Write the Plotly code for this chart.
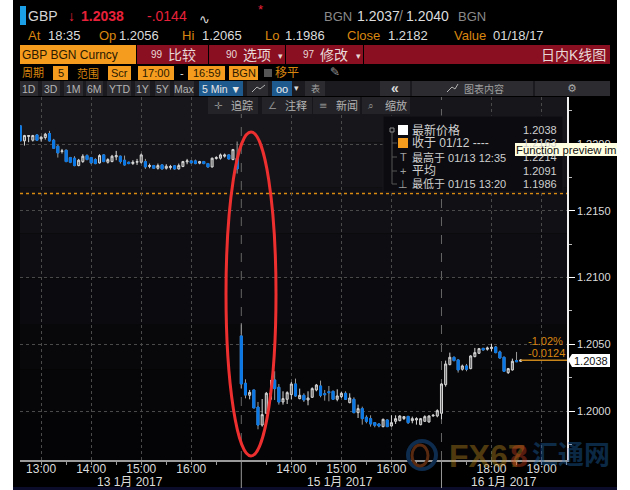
import plotly.graph_objects as go

W, H = 630, 490
PL, PR, PT, PB = 20, 567, 97, 460

# ---- data ----
opens = [1.22138,1.22025,1.22058,1.2203,1.2207,1.2204,1.2205,1.2208,1.2203,1.21985,1.21945,1.21955,1.219,1.21895,1.2184,1.2187,1.21915,1.219,1.21885,1.2186,
 1.2192,1.21865,1.2187,1.21905,1.2191,1.2188,1.21865,1.21855,1.21865,1.21865,1.2187,1.21833,1.2184,1.2182,1.21845,1.2182,1.21825,1.21838,1.21815,1.21833,
 1.21868,1.21875,1.21875,1.21858,1.2187,1.21855,1.2183,1.21893,1.21895,1.2191,1.2192,1.21885,1.21895,
 1.20563,1.20208,1.20118,1.20158,1.2003,1.19895,1.19983,1.20088,1.20233,1.20178,1.20068,1.20088,1.20123,1.20203,1.20093,1.20118,1.20083,1.20103,1.20158,1.20188,1.2013,1.20145,1.20148,1.20088,1.20108,1.20133,1.20063,1.20088,1.19988,1.20018,1.19953,1.19943,1.19913,1.19903,1.19883,1.19933,
 1.19888,1.19923,1.19928,1.19943,1.1996,1.19928,1.19933,1.19898,1.19923,1.19918,1.19963,1.19963,1.19983,1.20198,1.20348,1.20403,1.20383,1.20313,1.20338,1.20318,1.20408,1.20433,1.2047,1.20463,1.20468,1.2048,1.20443,1.20403,1.20288,1.20308,1.20378,1.20373]
highs = [1.22138,1.2207,1.22065,1.2207,1.22075,1.2206,1.22085,1.221,1.2204,1.21995,1.21965,1.2196,1.21905,1.2191,1.2189,1.21925,1.21925,1.21905,1.21895,1.21925,
 1.21925,1.21895,1.2192,1.2195,1.21915,1.21915,1.2187,1.2188,1.2189,1.2193,1.2189,1.21855,1.21845,1.21855,1.2185,1.2185,1.21845,1.21843,1.21855,1.21875,
 1.2189,1.2188,1.21885,1.21875,1.21875,1.2186,1.219,1.2191,1.2193,1.2193,1.21925,1.21965,1.2202,
 1.20658,1.20238,1.20158,1.20158,1.20068,1.2009,1.20143,1.20233,1.20298,1.20203,1.20148,1.20148,1.20218,1.20243,1.20168,1.20133,1.20148,1.20178,1.20203,1.20228,1.20158,1.20188,1.20153,1.20163,1.20143,1.20148,1.20133,1.20103,1.20048,1.20033,1.19968,1.19968,1.19918,1.19908,1.19943,1.19938,
 1.19968,1.19968,1.19968,1.19963,1.19963,1.19958,1.19953,1.19948,1.19968,1.19968,1.19978,1.20013,1.20208,1.20378,1.20438,1.20408,1.20388,1.20348,1.20353,1.20418,1.20473,1.20473,1.20473,1.20483,1.20503,1.20488,1.20453,1.20408,1.20323,1.20393,1.20443,1.20388]
lows = [1.22025,1.2199,1.22015,1.2202,1.22025,1.2202,1.22035,1.2202,1.21965,1.219,1.2193,1.21865,1.21858,1.21835,1.21835,1.2186,1.2188,1.2185,1.2185,1.21855,
 1.21865,1.21855,1.21865,1.2188,1.21855,1.2184,1.2185,1.21845,1.21845,1.21855,1.21815,1.2182,1.21815,1.2181,1.2181,1.2181,1.2181,1.2181,1.2181,1.21828,
 1.2185,1.21855,1.2185,1.2185,1.2185,1.21825,1.21825,1.21885,1.21885,1.219,1.21885,1.2188,1.2178,
 1.20168,1.20095,1.20088,1.20023,1.19863,1.19883,1.19978,1.20078,1.20083,1.20048,1.20048,1.20053,1.20088,1.20108,1.20088,1.20068,1.20043,1.20098,1.20148,1.20103,1.20078,1.20073,1.20083,1.20073,1.20098,1.20083,1.20058,1.19983,1.19948,1.19898,1.19908,1.19883,1.19878,1.19878,1.19878,1.19883,
 1.19883,1.19903,1.19923,1.19933,1.19903,1.19908,1.19898,1.19893,1.19918,1.19913,1.19958,1.19953,1.19938,1.20183,1.20343,1.20373,1.20288,1.20303,1.20298,1.20313,1.20403,1.20428,1.20453,1.20453,1.20448,1.20433,1.20393,1.20293,1.20278,1.20303,1.20368,1.20368]
closes = [1.22025,1.22065,1.22065,1.22065,1.2203,1.22053,1.22075,1.22025,1.2197,1.21935,1.2195,1.2187,1.21865,1.2184,1.2188,1.2191,1.21885,1.2186,1.21855,1.21915,
 1.2187,1.21885,1.2191,1.21915,1.2187,1.21845,1.21855,1.21865,1.2187,1.2192,1.2183,1.2184,1.2182,1.2184,1.21815,1.21835,1.21833,1.21815,1.2184,1.2187,
 1.21875,1.2186,1.21855,1.2187,1.21855,1.2183,1.21895,1.219,1.2192,1.2192,1.2189,1.2196,1.21815,
 1.20203,1.2012,1.2014,1.20023,1.19895,1.19973,1.20133,1.20133,1.20168,1.20068,1.20093,1.20138,1.20203,1.20113,1.20118,1.20083,1.20098,1.20168,1.20195,1.20118,1.20123,1.20138,1.20088,1.20113,1.20133,1.20088,1.20098,1.19988,1.20018,1.19943,1.19923,1.19903,1.19893,1.19888,1.19938,1.19883,
 1.19913,1.19943,1.19963,1.19958,1.19913,1.19943,1.19943,1.19943,1.19958,1.19963,1.19968,1.20003,1.20203,1.20353,1.20403,1.20378,1.20308,1.20338,1.20313,1.20413,1.20438,1.20468,1.20458,1.20473,1.20478,1.20438,1.20398,1.20298,1.20318,1.20373,1.2037,1.20383]
bars = list(range(len(opens)))

price_ticks = [1.2000, 1.2050, 1.2100, 1.2150, 1.2200]
price_tick_text = ["1.2000", "1.2050", "1.2100", "1.2150", "1.2200"]
minor_price_ticks = [1.1975, 1.2025, 1.2075, 1.2125, 1.2175, 1.2225]
hour_bars = [5, 17, 29, 41, 65, 77, 89, 113, 125]
hour_labels = ["13:00", "14:00", "15:00", "16:00", "14:00", "15:00", "16:00", "18:00", "19:00"]
half_hour_bars = [11, 23, 35, 47, 59, 71, 83, 95, 107, 119, 131]
session_breaks = [53, 101]
date_labels = ["13 1月 2017", "15 1月 2017", "16 1月 2017"]
date_bars = [26.3, 76.6, 116]
prev_close = 1.2163
last_price = 1.2038
x_range = [-0.07, 131.1]
y_range = [1.19633, 1.22354]

ORANGE = "#d9860f"
TAG = "#f59c1f"
RED = "#e8213a"
CRIM = "#8a0f20"
LT = "#dcdcdc"
FONT = "Liberation Sans, Noto Sans CJK SC, DejaVu Sans"

def px(v): return (v - PL) / (PR - PL)
def py(v): return (PB - v) / (PB - PT)

shapes, annos = [], []

def rect(x0, y0, x1, y1, fill, line=None, layer="below", width=1):
    shapes.append(dict(type="rect", xref="paper", yref="paper", x0=px(x0), x1=px(x1), y0=py(y1), y1=py(y0),
                       fillcolor=fill, line=dict(color=line or fill, width=width if line else 0), layer=layer))

def ln(x0, y0, x1, y1, color, width=1, dash="solid", layer="above"):
    shapes.append(dict(type="line", xref="paper", yref="paper", x0=px(x0), x1=px(x1), y0=py(y0), y1=py(y1),
                       line=dict(color=color, width=width, dash=dash), layer=layer))

def txt(x, y, s, color=LT, size=13, anchor="left", family=FONT, opacity=1):
    annos.append(dict(xref="paper", yref="paper", x=px(x), y=py(y), text=s, showarrow=False, xanchor=anchor, yanchor="middle",
                      font=dict(color=color, size=size, family=family), borderpad=0, borderwidth=0, opacity=opacity))

# page frame
rect(13, 0, 617, 490, "#000000")
rect(13, 487, 617, 490, "#0b0b2a")
# plot background, fading to black
stripe_colors = ["#17171b", "#141418", "#111115", "#0e0e12", "#0b0b0f", "#08080b", "#060608", "#040406"]
for k, c in enumerate(stripe_colors):
    rect(20, 97 + k * 45.4, 567, 97 + (k + 1) * 45.4, c)

# header row 1
rect(20, 6, 26, 25, "#1ba0e8", layer="above")
txt(28, 16, "GBP", "#d4d4d4", 14)
txt(68, 16, "↓", RED, 14)
txt(81, 16, "<b>1.2038</b>", RED, 14)
txt(147, 16, "-.0144", RED, 14)
txt(199, 19, "∿", LT, 13, family="DejaVu Sans")
txt(258, 10, "*", RED, 13)
txt(324, 16, "BGN", "#8a8a8a", 13)
txt(357, 16, "1.2037", LT, 14)
txt(399, 16, "/", "#8a8a8a", 14)
txt(406, 16, "1.2040", LT, 14)
txt(458, 16, "BGN", "#8a8a8a", 13)
# header row 2
for x, s in [(28, "At"), (99, "Op"), (182, "Hi"), (265, "Lo"), (347, "Close"), (454, "Value")]:
    txt(x, 36, s, ORANGE, 13)
for x, s in [(48, "18:35"), (119, "1.2056"), (202, "1.2065"), (285, "1.1986"), (388, "1.2182"), (493, "01/18/17")]:
    txt(x, 36, s, LT, 13)
# header row 3
rect(20, 45, 136, 64, TAG)
rect(137, 45, 208, 64, CRIM)
rect(209, 45, 285, 64, CRIM)
rect(286, 45, 363, 64, CRIM)
rect(364, 45, 610, 64, CRIM)
txt(22, 55, "GBP BGN Curncy", "#2a1a00", 12)
txt(151, 55, "99", "#e8d8d8", 10)
txt(168, 55, "比较", "#e8d8d8", 14)
txt(226, 55, "90", "#e8d8d8", 10)
txt(243, 55, "选项", "#e8d8d8", 14)
txt(278, 56, "▾", "#e8d8d8", 9)
txt(303, 55, "97", "#e8d8d8", 10)
txt(320, 55, "修改", "#e8d8d8", 14)
txt(356, 56, "▾", "#e8d8d8", 9)
txt(606, 55, "日内K线图", "#e8d8d8", 14, anchor="right")
# header row 4
txt(22, 73, "周期", ORANGE, 11)
txt(77, 73, "范围", ORANGE, 11)
for x0, x1, s in [(53, 68, "5"), (108, 131, "Scr"), (138, 174, "17:00"), (188, 225, "16:59"), (229, 258, "BGN")]:
    rect(x0, 66, x1, 80, TAG)
    txt((x0 + x1) / 2, 73, s, "#2a1a00", 11, anchor="center")
txt(180, 73, "-", LT, 11)
rect(264, 69, 272, 77, "#555555")
txt(275, 73, "移平", ORANGE, 12)
txt(330, 72, "✎", "#9a9a9a", 12, family="DejaVu Sans")
# header row 5
rect(20, 81, 610, 96, "#1b1b1f")
for x0, x1, s in [(20, 38, "1D"), (42, 60, "3D"), (64, 83, "1M"), (86, 103, "6M"), (107, 131, "YTD"), (135, 150, "1Y"), (155, 170, "5Y"), (174, 194, "Max")]:
    rect(x0, 81, x1, 96, "#2b2b30")
    txt((x0 + x1) / 2, 88.5, s, "#b4b4b4", 10.5, anchor="center")
rect(199, 81, 243, 96, "#1f5a8e")
txt(221, 88.5, "5 Min ▼", "#e6e6e6", 10.5, anchor="center")
rect(247, 81, 268, 96, "#2b2b30")
shapes.append(dict(type="path", xref="paper", yref="paper", layer="above",
                   path="M%f,%f L%f,%f L%f,%f L%f,%f" % (px(252), py(92), px(257), py(87), px(260), py(89), px(265), py(85)),
                   line=dict(color="#b4b4b4", width=1)))
rect(272, 81, 292, 96, "#1f5a8e")
txt(282, 88.5, "oo", "#eeeeee", 11, anchor="center")
txt(294, 88, "▾", LT, 9)
rect(305, 81, 325, 96, "#2b2b30")
txt(315, 88.5, "表", "#a0a0a0", 9, anchor="center")
rect(380, 81, 410, 96, "#2b2b30")
txt(395, 88, "<b>«</b>", "#d8d8d8", 14, anchor="center")
rect(412, 81, 533, 96, "#2b2b30")
txt(464, 88.5, "图表内容", "#a0a0a0", 10)
shapes.append(dict(type="path", xref="paper", yref="paper", layer="above",
                   path="M%f,%f L%f,%f L%f,%f L%f,%f" % (px(447), py(92), px(452), py(87), px(455), py(89), px(458), py(84)),
                   line=dict(color="#b4b4b4", width=1)))
rect(535, 81, 610, 96, "#2b2b30")
txt(572, 88, "⚙", "#a8a8a8", 11, anchor="center", family="DejaVu Sans")
# tool buttons over the plot
for x0, x1, icon, s in [(208, 258, "✛", "追踪"), (262, 312, "∠", "注释"), (313, 360, "≡", "新闻"), (362, 410, "⌕", "缩放")]:
    rect(x0, 97, x1, 114, "#242428", layer="above")
    txt(x0 + 6, 105.5, icon, "#8c8c8c", 10, family="DejaVu Sans")
    txt(x0 + 23, 105.5, s, "#b4b4b4", 11)

# legend box
rect(383, 116, 563, 192, "#0c0c10", line="#17171c", layer="above")
ln(392, 130, 392, 184, "#555555")
rect(390, 128, 394, 132, "#0c0c10", line="#888888", layer="above")
for yy in [143, 157, 171, 184]:
    ln(392, yy, 397, yy, "#555555")
rect(398, 125, 408, 135, "#ffffff", layer="above")
rect(398, 138, 408, 148, TAG, layer="above")
txt(403, 157, "T", "#a0a0a0", 11, anchor="center")
txt(403, 171, "+", "#a0a0a0", 11, anchor="center")
txt(403, 184, "⊥", "#a0a0a0", 11, anchor="center", family="DejaVu Sans")
txt(412, 130, "最新价格", "#cfcfcf", 12)
txt(412, 143, "收于 01/12 ----", "#cfcfcf", 12)
txt(412, 157, "最高于 01/13 12:35", "#cfcfcf", 11)
txt(412, 171, "平均", "#cfcfcf", 12)
txt(412, 184, "最低于 01/15 13:20", "#cfcfcf", 11)
for yy, s in [(130, "1.2038"), (143, "1.2163"), (157, "1.2214"), (171, "1.2091"), (184, "1.1986")]:
    txt(557, yy, s, "#cfcfcf", 11, anchor="right")
# tooltip
rect(515, 143, 617, 156, "#ffffe1", layer="above")
txt(516, 149.5, "Function preview im", "#111111", 11.3)

# value tags
txt(528, 341, "-1.02%", ORANGE, 11)
txt(528, 353, "-0.0124", ORANGE, 11)
shapes.append(dict(type="path", xref="paper", yref="paper", layer="above", fillcolor="#ffffff", line=dict(width=0),
                   path="M%f,%f L%f,%f L%f,%f L%f,%f L%f,%f Z" % (px(568), py(360), px(572), py(354), px(610), py(354), px(610), py(367), px(572), py(367))))
txt(574, 360.5, "1.2038", "#111111", 11)

# watermark
shapes.append(dict(type="circle", xref="paper", yref="paper", layer="above", x0=px(408), x1=px(436), y0=py(469), y1=py(441),
                   line=dict(color="#0e2c4d", width=4)))
shapes.append(dict(type="circle", xref="paper", yref="paper", layer="above", x0=px(412), x1=px(428), y0=py(466), y1=py(445),
                   line=dict(color="#5a2a10", width=3)))
txt(449, 456, "<b>FX67</b>", "#c8921e", 32, opacity=0.38)
txt(510, 456, "<b>8</b>", "#d8441e", 32, opacity=0.38)
txt(532, 455, "<b>汇通网</b>", "#1f6ab4", 26, opacity=0.38)

# red ellipse
shapes.append(dict(type="circle", xref="paper", yref="paper", layer="above", x0=px(226), x1=px(276), y0=py(456), y1=py(132),
                   line=dict(color="#ee2f2f", width=3)))

# plot-coordinate lines
shapes.append(dict(type="line", xref="paper", yref="y", x0=0, x1=1, y0=prev_close, y1=prev_close,
                   line=dict(color="#d98a10", width=1.5, dash="dot"), layer="below"))
for b in session_breaks:
    shapes.append(dict(type="line", xref="x", yref="paper", x0=b, x1=b, y0=0, y1=1,
                       line=dict(color="#666666", width=1, dash="dash"), layer="below"))
    shapes.append(dict(type="line", xref="x", yref="paper", x0=b, x1=b, y0=py(488), y1=py(460),
                       line=dict(color="#999999", width=1), layer="above"))

for b, s in zip(date_bars, date_labels):
    annos.append(dict(xref="x", yref="paper", x=b, y=py(482.5), text=s, showarrow=False, xanchor="center", yanchor="middle",
                      font=dict(color=LT, size=12, family=FONT)))

fig = go.Figure()
# full candles with light wicks
fig.add_trace(go.Candlestick(x=bars, open=opens, high=highs, low=lows, close=closes, whiskerwidth=0,
                             increasing=dict(line=dict(color="#d8d8d8", width=1), fillcolor="#666666"),
                             decreasing=dict(line=dict(color="#9a9a9a", width=1), fillcolor="#0a78e6"),
                             hoverinfo="skip", showlegend=False))
# blue bodies on top of falling candles
fig.add_trace(go.Candlestick(x=bars, open=opens, close=closes,
                             high=[max(o, c) for o, c in zip(opens, closes)],
                             low=[min(o, c) for o, c in zip(opens, closes)], whiskerwidth=0,
                             increasing=dict(line=dict(color="rgba(0,0,0,0)", width=0), fillcolor="rgba(0,0,0,0)"),
                             decreasing=dict(line=dict(color="#0a78e6", width=1), fillcolor="#0a78e6"),
                             hoverinfo="skip", showlegend=False))
# last price line
fig.add_trace(go.Scatter(x=[bars[-1], x_range[1]], y=[last_price, last_price], mode="lines",
                         line=dict(color="#c9861a", width=1.5), hoverinfo="skip", showlegend=False))
# axis pointers
fig.add_trace(go.Scatter(x=[x_range[1] + 0.8] * 4, y=price_ticks[:4], mode="markers", cliponaxis=False,
                         marker=dict(symbol="triangle-right", size=7, color="#ffffff"), hoverinfo="skip", showlegend=False))

fig.update_layout(
    width=W, height=H, autosize=False,
    margin=dict(l=PL, r=W - PR, t=PT, b=H - PB),
    paper_bgcolor="#ffffff", plot_bgcolor="rgba(0,0,0,0)",
    font=dict(family=FONT, color=LT),
    shapes=shapes, annotations=annos, showlegend=False,
    xaxis=dict(range=x_range, rangeslider=dict(visible=False), tickmode="array", tickvals=hour_bars, ticktext=hour_labels,
               showgrid=True, griddash="dot", gridcolor="#4a4a4a", gridwidth=1, zeroline=False,
               showline=True, linecolor="#9a9a9a", linewidth=2, ticklabelstandoff=-6,
               ticks="outside", ticklen=3, tickcolor="#9a9a9a", tickfont=dict(size=12, color=LT, family=FONT),
               minor=dict(tickmode="array", tickvals=half_hour_bars, ticks="outside", ticklen=3, tickcolor="#9a9a9a", showgrid=False)),
    yaxis=dict(range=y_range, side="right", tickmode="array", tickvals=price_ticks, ticktext=price_tick_text,
               showgrid=True, griddash="dot", gridcolor="#4a4a4a", gridwidth=1, zeroline=False,
               showline=True, linecolor="#f0f0f0", linewidth=1.5,
               ticks="outside", ticklen=6, tickcolor="#ffffff", tickfont=dict(size=11, color=LT, family=FONT),
               minor=dict(tickmode="array", tickvals=minor_price_ticks, ticks="outside", ticklen=3, tickcolor="#bbbbbb", showgrid=False)),
)
fig.write_html("out.html", config=dict(displayModeBar=False),
               post_script="document.body.style.margin='0';document.body.style.overflow='hidden';")
